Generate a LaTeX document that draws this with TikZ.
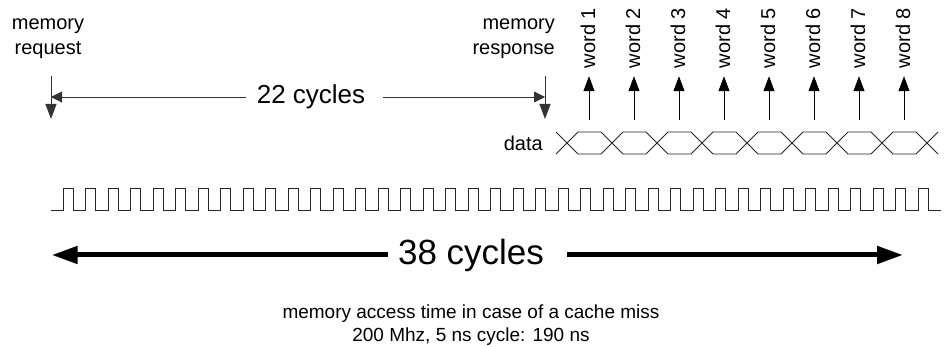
\documentclass[tikz,border=0pt]{standalone}
\usepackage{fontspec}
\setmainfont{Liberation Sans}
\usetikzlibrary{arrows.meta}

\begin{document}
\begin{tikzpicture}[x=1pt, y=-1pt,
    lbl/.style={font=\fontsize{20}{25}\selectfont, inner sep=0pt},
    span/.style={line width=0.9pt, draw=black!80, -{Triangle[length=11pt, width=11pt]}},
    marker/.style={line width=0.9pt, draw=black!80, -{Triangle[length=15pt, width=11pt]}},
    wordarrow/.style={line width=0.9pt, -{Triangle[length=15pt, width=11pt]}},
    bigarrow/.style={line width=5pt, -{Triangle[length=26pt, width=17pt]}},
    wave/.style={line width=0.8pt, draw=black!85}
]
\useasboundingbox (0,0) rectangle (946,347);

% Anfrage und Antwort
\node[lbl, align=center] (req) at (48,39) {memory\\request};
\node[lbl, align=right, anchor=east] (resp) at (555,39) {memory\\response};
\coordinate (reqtop) at (51,76);
\coordinate (reqbot) at (51,119);
\coordinate (resptop) at (545,76);
\coordinate (respbot) at (545,119);
\draw[marker] (reqtop) -- (reqbot);
\draw[marker] (resptop) -- (respbot);

% 22 Takte
\node[font=\fontsize{26}{30}\selectfont, inner sep=0pt] (lat) at (311,97) {22 cycles};
\draw[span, shorten <=11pt] (lat.west) -- (reqtop |- lat.west);
\draw[span, shorten <=18pt] (lat.east) -- (resptop |- lat.east);

% Datenworte
\node[lbl, anchor=east] (data) at (543,143) {data};
\foreach \i in {1,...,8} {
    \coordinate (d\i) at ({589+45*(\i-1)}, 120);
    \node[lbl, rotate=90] (w\i) at ({588+45*(\i-1)}, 38) {word \i};
    \draw[wordarrow, shorten >=8pt] (d\i) -- (d\i |- w\i.west);
}
\foreach \k in {0,...,7} {
    \draw[wave] ({567+45*\k},143) -- ++(11,-11) -- ++(23,0) -- ++(11,11)
        -- ++(-11,11) -- ++(-23,0) -- cycle;
}
\draw[wave] (556,132) -- (567,143) -- (556,154);
\draw[wave] (938,132) -- (927,143) -- (938,154);

% Takt
\draw[wave] (51,210) -- (63.3,210)
    \foreach \k in {1,...,39} { -- ++(0,-22) -- ++(10,0) -- ++(0,22) -- ++(12.5,0) };

% 38 Takte
\node[font=\fontsize{35}{40}\selectfont, inner sep=0pt] (total) at (471,255) {38 cycles};
\coordinate (tl) at (51.7,255);
\coordinate (tr) at (903,255);
\draw[bigarrow, shorten <=10pt] (total.west) -- (tl);
\draw[bigarrow, shorten <=23pt] (total.east) -- (tr);

\node[font=\fontsize{19}{23}\selectfont, align=center, inner sep=0pt] (note) at (471,325)
    {memory access time in case of a cache miss\\200 Mhz, 5 ns cycle: 190 ns};
\end{tikzpicture}
\end{document}
